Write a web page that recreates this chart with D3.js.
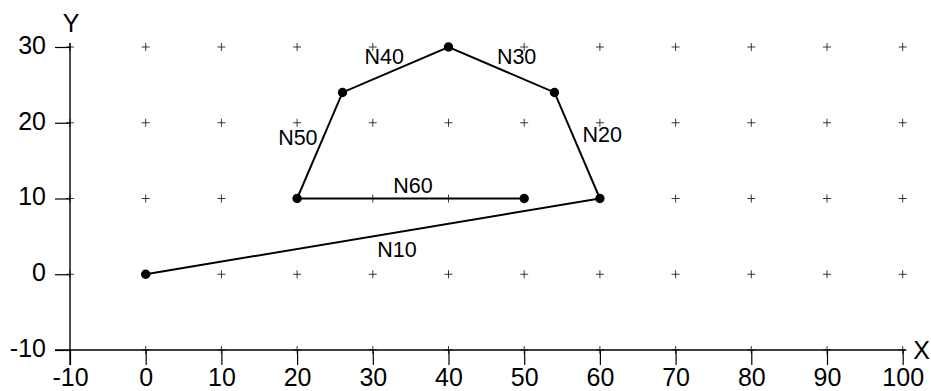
<!DOCTYPE html>
<html><head><meta charset="utf-8">
<script src="https://cdn.jsdelivr.net/npm/d3@7"></script>
<style>html,body{margin:0;padding:0;background:#fff}svg{display:block}</style>
</head><body>
<svg id="c" width="931" height="391"></svg>
<script>
const xTicks = [-10,0,10,20,30,40,50,60,70,80,90,100];
const yTicks = [-10,0,10,20,30];
const pathX = [0,60,54,40,26,20,50];
const pathY = [0,10,24,30,24,10,10];
const segLabels = ["N10","N20","N30","N40","N50","N60"];
const segLabelX = [33.2,60.3,49.0,31.5,20.1,35.3];
const segLabelY = [3.2,18.4,28.7,28.7,18.0,11.7];

const svg = d3.select("#c");
const x = d3.scaleLinear().domain([-10,100]).range([70,902.7]);
const y = d3.scaleLinear().domain([-10,30]).range([350,47]);
const font = "Liberation Sans, Arial, sans-serif";
const fmt = d => String(d); // plain hyphen minus

// grid plus markers
const grid = [];
xTicks.forEach(a=>yTicks.forEach(b=>{ if(b>-10 || a>-10) grid.push([a,b]); }));
const g = svg.append("g");
grid.forEach(([a,b])=>{
  const px=x(a), py=y(b);
  g.append("line").attr("x1",px-4).attr("x2",px+4).attr("y1",py).attr("y2",py).attr("stroke","#222").attr("stroke-width",0.9);
  g.append("line").attr("x1",px).attr("x2",px).attr("y1",py-4).attr("y2",py+4).attr("stroke","#222").attr("stroke-width",0.9);
});

// axes
const xAxis = d3.axisBottom(x).tickValues(xTicks).tickFormat(fmt).tickSize(15).tickPadding(3).tickSizeOuter(0);
const yAxis = d3.axisLeft(y).tickValues(yTicks).tickFormat(fmt).tickSize(15).tickPadding(9).tickSizeOuter(0);
const gx = svg.append("g").attr("transform",`translate(0,${y(-10)})`).call(xAxis);
const gy = svg.append("g").attr("transform",`translate(${x(-10)},0)`).call(yAxis);
gx.select(".domain").remove(); gy.select(".domain").remove();
svg.append("line").attr("x1",55).attr("x2",x(100)+3).attr("y1",y(-10)).attr("y2",y(-10)).attr("stroke","#000").attr("stroke-width",1.4);
svg.append("line").attr("x1",x(-10)).attr("x2",x(-10)).attr("y1",y(30)-4).attr("y2",y(-10)+15).attr("stroke","#000").attr("stroke-width",1.4);
[gx,gy].forEach(a=>{
  a.selectAll(".tick line").attr("stroke","#000").attr("stroke-width",1.2);
  a.selectAll(".tick text").attr("fill","#000").style("font-family",font).style("font-size","25px");
});
gx.selectAll(".tick text").attr("dy","0.71em");
gy.selectAll(".tick text").attr("dy","0.25em");

svg.append("text").attr("x",x(100)+19).attr("y",y(-10)+9).attr("text-anchor","middle").text("X")
  .style("font-family",font).style("font-size","25px");
svg.append("text").attr("x",x(-10)+1).attr("y",32).attr("text-anchor","middle").text("Y")
  .style("font-family",font).style("font-size","25px");

// path
const pts = pathX.map((v,i)=>[v,pathY[i]]);
svg.append("path").attr("d",d3.line().x(d=>x(d[0])).y(d=>y(d[1]))(pts))
  .attr("fill","none").attr("stroke","#000").attr("stroke-width",2);
svg.selectAll("circle.p").data(pts).join("circle").attr("class","p")
  .attr("cx",d=>x(d[0])).attr("cy",d=>y(d[1])).attr("r",4.7).attr("fill","#000");

svg.selectAll("text.seg").data(segLabels).join("text").attr("class","seg")
  .attr("x",(d,i)=>x(segLabelX[i])).attr("y",(d,i)=>y(segLabelY[i]))
  .attr("text-anchor","middle").attr("dominant-baseline","central")
  .style("font-family",font).style("font-size","21.5px").text(d=>d);
</script>
</body></html>
